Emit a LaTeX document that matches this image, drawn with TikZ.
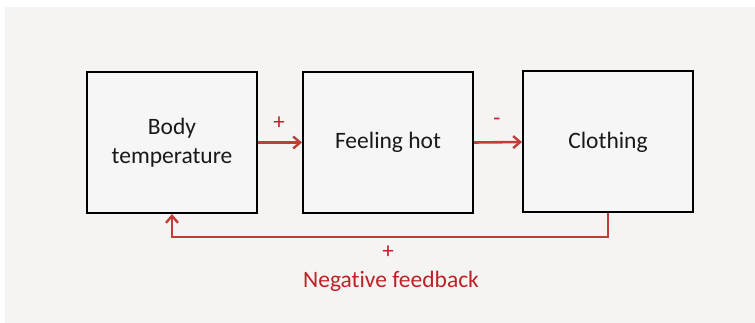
\documentclass[tikz,border=0pt]{standalone}
\usepackage{fontspec}
\setmainfont{Carlito}[Ligatures=NoCommon]
\usetikzlibrary{arrows.meta}
\definecolor{panelgray}{RGB}{245,244,242}
\definecolor{boxfill}{RGB}{246,246,246}
\definecolor{linkred}{RGB}{192,62,56}
\definecolor{labelred}{RGB}{186,34,40}
\tikzset{
  blockbox/.style={draw=black, line width=2pt, fill=boxfill,
    minimum width=170pt, minimum height=141pt, inner sep=0pt,
    align=center, font=\fontsize{23.5}{29}\selectfont, text=black!90},
  link/.style={draw=linkred, line width=2.6pt,
    -{Straight Barb[length=7pt,width=12pt,line width=2.4pt]}},
  sign/.style={text=labelred, font=\fontsize{23}{26}\selectfont, inner sep=0pt},
}
\begin{document}
\begin{tikzpicture}[x=1pt, y=-1pt]
  \useasboundingbox (0,0) rectangle (755,323);
  \fill[white] (0,0) rectangle (755,323);
  \fill[panelgray] (5,7) rectangle (755,323);

  % the three stages of the loop
  \node[blockbox] (body)  at (172,142.5) {Body\\temperature};
  \node[blockbox] (hot)   at (388,142.5) {Feeling hot};
  \node[blockbox] (cloth) at (608,142) {Clothing};

  % forward links with their signs
  \draw[link] (body.east) -- (hot.west);
  \draw[link] (hot.east) -- (cloth.west);
  \node[sign] (plusA)  at (279,123) {+};
  \node[sign] (minusA) at (497,122) {-};

  % feedback path back to the first stage
  \coordinate (turnR) at (cloth.south |- 0,237);
  \coordinate (turnL) at (body.south |- 0,237);
  \draw[link] (cloth.south) -- (turnR) -- (turnL) -- (body.south);
  \node[sign] (plusB) at (388,252) {+};
  \node[text=labelred, font=\fontsize{23.5}{28}\selectfont, inner sep=0pt]
    (fbtext) at (391,281) {Negative feedback};
\end{tikzpicture}
\end{document}
